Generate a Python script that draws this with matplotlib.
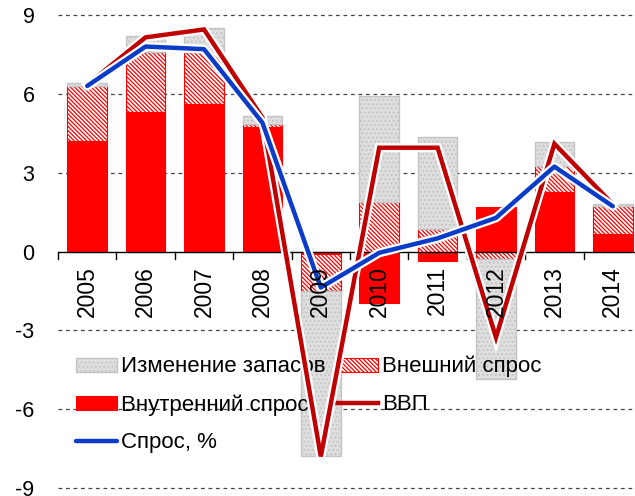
import matplotlib
matplotlib.use('Agg')
from matplotlib import pyplot as plt
import matplotlib.patheffects as pe
import numpy as np

plt.rcParams['font.family'] = ['Liberation Sans', 'DejaVu Sans']
plt.rcParams['hatch.linewidth'] = 0.9

years = ['2005', '2006', '2007', '2008', '2009', '2010', '2011', '2012', '2013', '2014']
domestic = [4.2, 5.3, 5.6, 4.75, -0.1, -1.95, -0.38, 1.7, 2.25, 0.67]
external = [2.1, 2.3, 2.0, 0.1, -1.4, 1.9, 0.87, -0.3, 1.0, 1.05]
inventory = [0.1, 0.6, 0.9, 0.3, -6.3, 4.0, 3.48, -4.57, 0.9, 0.1]
gdp = [6.35, 8.15, 8.45, 5.1, -7.8, 3.95, 3.95, -3.27, 4.1, 1.8]
demand = [6.3, 7.8, 7.7, 4.9, -1.37, -0.05, 0.5, 1.28, 3.23, 1.72]

fig = plt.figure(figsize=(6.35, 4.96), dpi=100)
ax = fig.add_axes([58 / 635, 8 / 496, 584 / 635, 473 / 496])

x = np.arange(len(years))
w = 0.68

# stacked bars, positives and negatives stacked separately
pos = np.zeros(len(years))
neg = np.zeros(len(years))
styles = [
    dict(facecolor='red', edgecolor='red', linewidth=0.8),
    dict(facecolor='white', edgecolor='red', hatch='\\\\\\\\\\\\\\\\', linewidth=0.8),
    dict(facecolor='#dedede', edgecolor='#c4c4c4', hatch='....', linewidth=1.0),
]
bars = []
for vals, st in zip([domestic, external, inventory], styles):
    vals = np.array(vals)
    bottom = np.where(vals >= 0, pos, neg)
    b = ax.bar(x, vals, w, bottom=bottom, zorder=2, **st)
    bars.append(b)
    pos = pos + np.where(vals >= 0, vals, 0)
    neg = neg + np.where(vals < 0, vals, 0)

glow = [pe.Stroke(linewidth=6.5, foreground='white'), pe.Normal()]
l_gdp, = ax.plot(x, gdp, color='#c00000', linewidth=3.2, zorder=4,
                 solid_joinstyle='miter', path_effects=glow)
l_dem, = ax.plot(x, demand, color='#0a3cc8', linewidth=3.2, zorder=5,
                 solid_capstyle='round', path_effects=glow)

# grid
for yv in [-9, -6, -3, 3, 6, 9]:
    ax.axhline(yv, color='#444444', linewidth=0.9, linestyle=(0, (3, 3)),
               zorder=1, clip_on=False)
ax.axhline(0, color='black', linewidth=1.0, zorder=3)

ax.set_xlim(-0.5, 9.5)
ax.set_ylim(-9, 9)
ax.set_yticks([-9, -6, -3, 0, 3, 6, 9])
ax.set_yticklabels(['-9', '-6', '-3', '0', '3', '6', '9'])
ax.tick_params(axis='y', length=0, pad=17, labelsize=15.5)
ax.set_xticks(np.arange(-0.5, 10, 1))
ax.set_xticklabels([])
ax.tick_params(axis='x', length=0)
for xt in np.arange(-0.5, 10, 1):
    ax.plot([xt, xt], [0, -0.3], color='black', linewidth=1.0, zorder=3, clip_on=False)
for s in ax.spines.values():
    s.set_visible(False)

for i, yr in enumerate(years):
    ax.text(i, -0.55, yr, rotation=90, ha='center', va='top', fontsize=16.5, zorder=6)

leg_handles = [bars[2], bars[0], l_dem, bars[1], l_gdp]
leg_labels = ['Изменение запасов', 'Внутренний спрос', 'Спрос, %', 'Внешний спрос', 'ВВП']
leg = ax.legend(leg_handles, leg_labels,
                ncol=2, frameon=False, loc='upper left', bbox_to_anchor=(0.015, 0.298),
                fontsize=16, handlelength=1.85, handleheight=0.6, handletextpad=0.2,
                labelspacing=0.75, columnspacing=0.5, borderaxespad=0)
leg.set_zorder(3.5)
# keep the white glow off the legend line samples
for h in leg.get_lines():
    h.set_path_effects([])

fig.savefig('out.png', dpi=100)
